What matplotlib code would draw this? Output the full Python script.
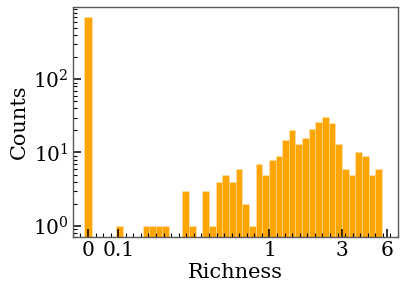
import matplotlib
matplotlib.use('Agg')
import matplotlib.pyplot as plt
from matplotlib.ticker import MultipleLocator, FixedLocator
import numpy as np

# histogram of log10(richness); zeros are shown as a separate bar at -1.2
bin_lo = -1.015          # left edge of first positive bin (log10 units)
bin_width = 0.04395
counts = [1, 0, 0, 0, 1, 1, 1, 1, 0, 0,
          3, 1, 0, 3, 1, 4, 5, 4, 6, 2,
          1, 7, 5, 8, 9, 15, 20, 13, 16, 21,
          26, 31, 25, 13, 6, 5, 10, 9, 5, 6]
zero_pos = -1.2
zero_count = 700
zero_width = 0.055

tick_labels = ['0', '0.1', '1', '3', '6']
tick_values = [zero_pos, np.log10(0.1), 0.0, np.log10(3), np.log10(6)]

plt.rcParams['font.family'] = 'DejaVu Serif'
plt.rcParams['mathtext.fontset'] = 'dejavuserif'

fig = plt.figure(figsize=(4.07, 2.93), dpi=100)
ax = fig.add_axes([0.179, 0.191, 0.799, 0.785])

lefts = bin_lo + bin_width * np.arange(len(counts))
counts = np.array(counts, dtype=float)
mask = counts > 0
ax.bar(lefts[mask], counts[mask], width=bin_width, align='edge',
       color='orange', edgecolor=(1, 1, 1, 0.3), linewidth=0.5)
ax.bar(zero_pos, zero_count, width=zero_width, align='center',
       color='orange', edgecolor=(1, 1, 1, 0.3), linewidth=0.5)

ax.set_yscale('log')
ax.set_ylim(0.7, 970)
ax.set_xlim(-1.3, 0.85)

ax.xaxis.set_major_locator(FixedLocator(tick_values))
ax.set_xticklabels(tick_labels)
ax.xaxis.set_minor_locator(MultipleLocator(0.05))

ax.tick_params(which='both', direction='in', top=False, right=False, labelsize=14.5)
ax.tick_params(which='major', length=6, width=1.1, pad=3)
ax.tick_params(which='minor', length=3, width=0.8)

for s in ax.spines.values():
    s.set_color('0.35')
    s.set_linewidth(1)

ax.set_xlabel('Richness', fontsize=15, labelpad=2)
ax.set_ylabel('Counts', fontsize=15, labelpad=3)

fig.savefig('out.png', dpi=100)
